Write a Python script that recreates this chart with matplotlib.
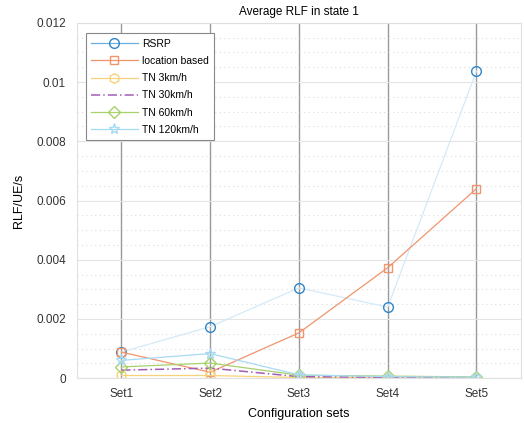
import matplotlib
matplotlib.use("Agg")
import matplotlib.pyplot as plt
from matplotlib.lines import Line2D
from matplotlib.ticker import MultipleLocator

plt.rcParams['font.family'] = ['Liberation Sans', 'DejaVu Sans']

sets = ['Set1', 'Set2', 'Set3', 'Set4', 'Set5']
x = [1, 2, 3, 4, 5]

rsrp = [0.00088, 0.00174, 0.00305, 0.00240, 0.01037]
location = [0.00088, 0.00020, 0.00153, 0.00373, 0.00640]
tn3 = [0.00009, 0.00009, 0.00002, 0.00002, 0.00001]
tn30 = [0.00027, 0.00034, 0.00005, 0.00003, 0.00002]
tn60 = [0.00038, 0.00051, 0.00010, 0.00007, 0.00004]
tn120 = [0.00060, 0.00083, 0.00011, 0.00005, 0.00003]

fig = plt.figure(figsize=(5.24, 4.23), dpi=100)
ax = fig.add_axes([0.147, 0.106, 0.847, 0.840])
ax.set_axisbelow(True)

c_rsrp = '#2e86c9'
c_loc = '#f0946c'
c_tn3 = '#f8d27a'
c_tn30 = '#a55cb6'
c_tn60 = '#a8d06c'
c_tn120 = '#a7daf4'

ax.plot(x, rsrp, color='#d4eaf7', lw=0.9, marker='o', ms=7, mfc='none', mec=c_rsrp, mew=1.0)
ax.plot(x, location, color=c_loc, lw=0.9, marker='s', ms=6, mfc='none', mec=c_loc, mew=1.0)
ax.plot(x, tn3, color=c_tn3, lw=0.9, marker='h', ms=7, mfc='none', mec=c_tn3, mew=1.0)
ax.plot(x, tn30, color=c_tn30, lw=1.1, ls=(0, (6, 2, 1, 2)))
ax.plot(x, tn60, color=c_tn60, lw=0.9, marker='D', ms=6, mfc='none', mec=c_tn60, mew=1.0)
ax.plot(x, tn120, color=c_tn120, lw=0.9, marker='*', ms=8, mfc='none', mec=c_tn120, mew=1.0)

ax.set_xlim(0.5, 5.5)
ax.set_ylim(0, 0.012)
ax.set_xticks(x)
ax.set_xticklabels(sets)
ax.set_yticks([0, 0.002, 0.004, 0.006, 0.008, 0.01, 0.012])
ax.set_yticklabels(['0', '0.002', '0.004', '0.006', '0.008', '0.01', '0.012'])
ax.yaxis.set_minor_locator(MultipleLocator(0.0005))
ax.tick_params(axis='both', which='both', length=0, labelsize=8.5, colors='#333333')
ax.tick_params(axis='x', pad=7)
ax.tick_params(axis='y', pad=8)

ax.grid(axis='x', which='major', color='#999999', lw=1.0)
ax.grid(axis='y', which='major', color='#e4e4e4', lw=0.8)
ax.grid(axis='y', which='minor', color='#dcdcdc', lw=0.8, ls=(0, (1, 3)))

for s in ax.spines.values():
    s.set_color('#e0e0e0')
    s.set_linewidth(0.8)

ax.set_title('Average RLF in state 1', fontsize=8.5, pad=6)
ax.set_xlabel('Configuration sets', fontsize=9, labelpad=6)
ax.set_ylabel('RLF/UE/s', fontsize=9, labelpad=8)

handles = [
    Line2D([], [], color='#6cb0e0', lw=0.9, marker='o', ms=7, mfc='none', mec=c_rsrp),
    Line2D([], [], color=c_loc, lw=0.9, marker='s', ms=6, mfc='none', mec=c_loc),
    Line2D([], [], color=c_tn3, lw=0.9, marker='h', ms=7, mfc='none', mec=c_tn3),
    Line2D([], [], color=c_tn30, lw=1.1, ls=(0, (6, 2, 1, 2))),
    Line2D([], [], color=c_tn60, lw=0.9, marker='D', ms=6, mfc='none', mec=c_tn60),
    Line2D([], [], color=c_tn120, lw=0.9, marker='*', ms=8, mfc='none', mec=c_tn120),
]
labels = ['RSRP', 'location based', 'TN 3km/h', 'TN 30km/h', 'TN 60km/h', 'TN 120km/h']
leg = ax.legend(handles, labels, loc='upper left', bbox_to_anchor=(0.008, 0.985),
                fontsize=7.5, handlelength=4.5, fancybox=False, framealpha=1,
                edgecolor='#888888', borderpad=0.5, labelspacing=0.7, handletextpad=0.4)
leg.get_frame().set_linewidth(0.8)

fig.savefig('out.png', dpi=100)
